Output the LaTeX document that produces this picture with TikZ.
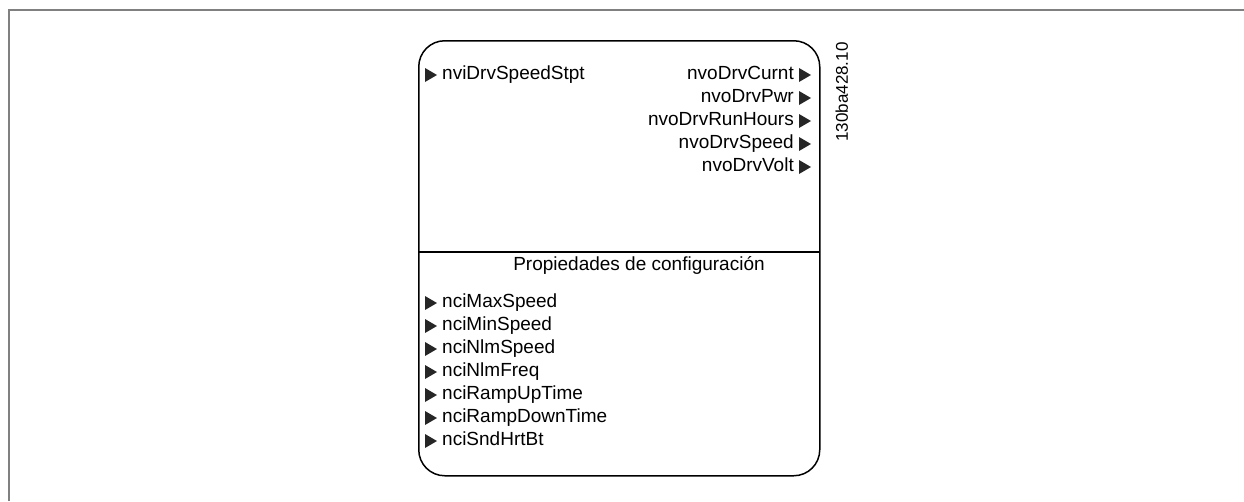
\documentclass[tikz,border=0pt]{standalone}
\usepackage{fontspec}
\setmainfont{Liberation Sans}
\begin{document}
\begin{tikzpicture}[x=1pt,y=-1pt,
  lbl/.style={font=\fontsize{19}{23}\selectfont, inner sep=0pt, text height=13.5pt, text depth=4pt},
  frameline/.style={draw=black!50, line width=1.4pt},
  boxline/.style={draw=black, line width=1.5pt},
  tip/.style={fill=black!85}]
\useasboundingbox (0,0) rectangle (1244,501);
% outer frame (top and left only)
\draw[frameline] (9,501) -- (9,10) -- (1244,10);
% function block
\node[boxline, rounded corners=26pt, minimum width=401pt, minimum height=435pt,
      anchor=north west, inner sep=0pt] (fb) at (418,40) {};
\coordinate (divL) at (418,252);
\coordinate (divR) at (819,252);
\draw[boxline] (divL) -- (divR);
% inputs
\node[lbl, anchor=west] (nvi) at (442,75) {nviDrvSpeedStpt};
\fill[tip] ([xshift=-17pt,yshift=7pt]nvi.west) -- ([xshift=-5pt]nvi.west) -- ([xshift=-17pt,yshift=-7pt]nvi.west) -- cycle;
% outputs
\foreach \t/\y in {nvoDrvCurnt/75, nvoDrvPwr/98, nvoDrvRunHours/121, nvoDrvSpeed/144, nvoDrvVolt/167}{
  \node[lbl, anchor=east] (\t) at (794,\y) {\t};
  \fill[tip] ([xshift=5pt,yshift=7pt]\t.east) -- ([xshift=17pt]\t.east) -- ([xshift=5pt,yshift=-7pt]\t.east) -- cycle;
}
% configuration properties
\node[lbl] (cp) at (639,266) {Propiedades de configuración};
\foreach \t/\y in {nciMaxSpeed/303, nciMinSpeed/326, nciNlmSpeed/349, nciNlmFreq/372, nciRampUpTime/395, nciRampDownTime/418, nciSndHrtBt/441}{
  \node[lbl, anchor=west] (\t) at (442,\y) {\t};
  \fill[tip] ([xshift=-17pt,yshift=7pt]\t.west) -- ([xshift=-5pt]\t.west) -- ([xshift=-17pt,yshift=-7pt]\t.west) -- cycle;
}
% drawing code
\node[lbl, font=\fontsize{17}{20}\selectfont, rotate=90] (code) at (843,92) {130ba428.10};
\end{tikzpicture}
\end{document}
